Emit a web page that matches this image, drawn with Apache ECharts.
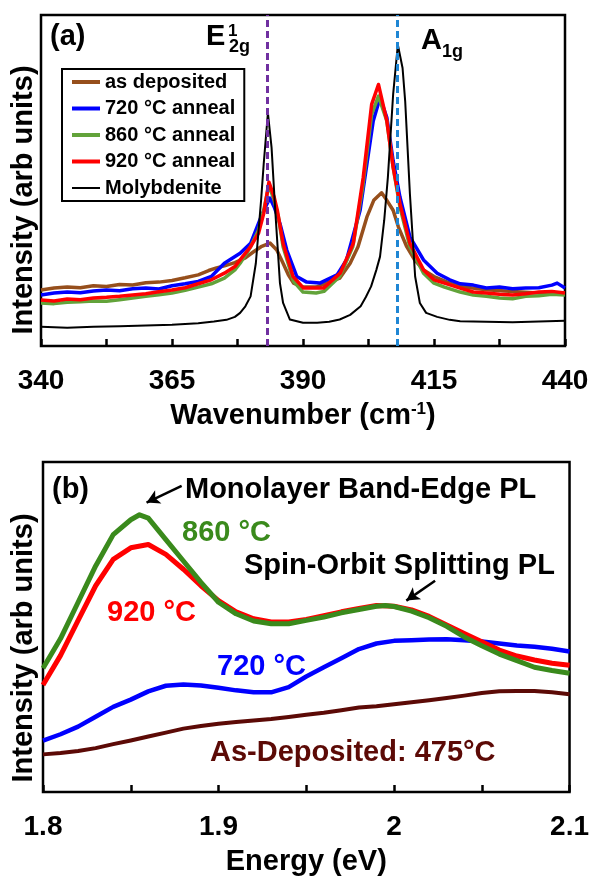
<!DOCTYPE html>
<html>
<head>
<meta charset="utf-8">
<script src="https://cdn.jsdelivr.net/npm/echarts@6/dist/echarts.min.js"></script>
<style>
  html, body { margin: 0; padding: 0; background: #fff; }
  #chart { width: 592px; height: 877px; }
</style>
</head>
<body>
<div id="chart"></div>
<script>
// ---------- (a) Raman spectra: [wavenumber (cm-1), intensity (arb.)] ----------
const ramanAsDeposited = [
  [340,16.9],[342.5,17.5],[345,17.8],[347.5,17.6],[350,18.2],[352.5,18.0],[355,18.6],[357.5,18.4],
  [360,19.1],[362.5,19.3],[365,19.8],[367.5,20.6],[370,21.5],[372,22.8],[373.5,23.6],[375,24.2],
  [377,25.2],[379,26.6],[380.5,28.4],[382,30],[383.7,31.1],[385,29],[386.2,25],[387.2,21.5],
  [388.2,19],[390,17.8],[392.5,17.8],[394.5,19],[397,20.5],[399,25],[400.5,30],[402.2,39],
  [403.5,44],[405,46.3],[406,44],[407.2,41],[408.2,36],[409.8,30],[411.3,26],[413,23],[415,21],
  [418,19],[420,18],[425,17],[430,16.5],[435,16],[440,16]
];
const raman720 = [
  [340,15.4],[342.5,16.0],[345,16.3],[347.5,16.1],[350,16.6],[352.5,16.9],[355,16.7],[357.5,17.3],
  [360,17.5],[362.5,17.2],[365,18.2],[367.5,18.8],[370,19.5],[372.5,21.0],[375,25],[376.5,26.5],
  [378,28],[380,31],[381,35],[382,39],[383,42.5],[383.7,44.7],[384.5,42],[385.6,37],[386.9,29],
  [388.8,21],[390.7,19.3],[393.2,19],[395.2,20.5],[396.5,21.5],[398.3,26],[400.9,41],[403.4,68],
  [404.7,75],[406,69],[407.2,56],[408.5,45],[410.4,33],[413,26],[415.6,22],[418,20],[420,18.8],
  [422.5,18.4],[425,17.5],[427.5,17.8],[430,17.3],[432.5,17.5],[435,17.6],[437.5,18.4],[438.5,19.0],[440,17.5]
];
const raman860 = [
  [340,13.0],[342.5,12.8],[345,13.2],[347.5,13.4],[350,13.6],[352.5,13.5],[355,14.0],[357.5,14.5],
  [360,15.0],[362.5,15.5],[365,16.0],[367.5,16.8],[370,17.8],[372.5,18.8],[375,20.5],[377,23],
  [378,25],[380,30],[381.5,35],[382.5,41],[383.5,48.6],[384.5,44],[385.3,39],[386.2,30],[388.2,19.5],
  [390,16.3],[392.5,16.0],[394,16.5],[397,21],[399.5,30],[401.4,48],[403.1,70],[404.4,75.5],
  [406,68],[407.2,54],[408.5,42],[410.4,30],[413,22],[415,19],[417,17.8],[420,16.3],[422.5,15.4],
  [425,15],[427.5,14.5],[430,14.3],[432.5,15],[435,15.2],[437.5,15.6],[440,15.4]
];
const raman920 = [
  [340,13.9],[342.5,13.6],[345,14.2],[347.5,14.0],[350,14.5],[352.5,14.7],[355,15.0],[357.5,15.4],
  [360,15.8],[362.5,16.4],[365,16.9],[367.5,17.6],[370,18.8],[372.5,20],[375,22],[377,24],[378,26],
  [380,30],[381.5,34],[382.5,40],[383.5,49.5],[384.5,45],[385.1,41],[386.2,31],[388.1,21],
  [390.1,17.5],[393.9,17.5],[397.1,22],[399.6,31],[401.5,51],[403.1,73],[404.4,79],[406,68],
  [407.2,54],[408.5,43],[410.4,31],[413,23],[415,20],[417,19],[420,17.5],[422.5,16.3],[425,16],
  [427.5,15.6],[430,15.4],[432.5,15.8],[435,16.3],[437.5,16.5],[440,16]
];
const ramanMolybdenite = [
  [340,5.8],[345,5.5],[350,5.8],[355,6.0],[360,6.2],[365,6.4],[370,6.9],[373,7.4],[375.4,7.9],
  [377,8.8],[378,10],[379,12],[380,15],[381,25],[382,44],[382.5,55],[383.3,70.4],[384,60],
  [384.7,41],[385.6,19],[386.2,13],[387.5,8],[390,7],[392.7,7],[395,7.3],[397,8],[399,9.4],
  [401,12],[402,14.8],[403,18],[404,23],[404.7,27],[405.5,38],[406.2,51],[407.2,76],[408.1,91],
  [409,84],[409.5,74],[410.4,46],[411.4,21],[412.3,13],[413.5,10],[415.6,8.8],[418,7.9],[420,7.5],
  [425,7.3],[430,7.2],[435,7.4],[440,7.6]
];
const ramanModes = [383.1, 408.0];          // E1_2g and A_1g positions
const ramanNames = ['as deposited', '720 °C anneal', '860 °C anneal', '920 °C anneal', 'Molybdenite'];
const wnLabels = [340, 365, 390, 415, 440];
const wnTicks = [340, 352.5, 365, 377.5, 390, 402.5, 415, 427.5, 440];

// ---------- (b) photoluminescence: [energy (eV), intensity (arb.)] ----------
const plAsDeposited = [
  [1.80,11.4],[1.81,11.8],[1.82,12.4],[1.83,13.3],[1.84,14.5],[1.85,15.6],[1.86,16.8],[1.87,18],
  [1.88,19.2],[1.89,20],[1.90,20.7],[1.91,21.2],[1.92,21.7],[1.93,22.1],[1.94,22.7],[1.95,23.4],
  [1.96,24],[1.97,24.8],[1.98,25.6],[1.99,26],[2.00,26.6],[2.01,27.2],[2.02,27.8],[2.03,28.5],
  [2.04,29.2],[2.05,30],[2.06,30.5],[2.07,30.6],[2.08,30.6],[2.09,30.2],[2.10,29.6]
];
const pl720 = [
  [1.80,15.6],[1.81,17.5],[1.82,19.8],[1.83,22.8],[1.84,25.8],[1.85,28],[1.86,30.5],[1.87,32.2],
  [1.88,32.6],[1.89,32.3],[1.90,31.6],[1.91,30.8],[1.92,30.2],[1.93,30.2],[1.94,31.8],[1.95,35],
  [1.96,37.8],[1.97,40.5],[1.98,43.3],[1.99,45],[2.00,45.8],[2.01,46],[2.02,46.2],[2.03,46.3],
  [2.04,46],[2.05,45.6],[2.06,45],[2.07,44.4],[2.08,44],[2.09,43.4],[2.10,42.6]
];
const pl920 = [
  [1.80,32.4],[1.81,41.4],[1.82,52],[1.83,62.5],[1.84,70.5],[1.85,74],[1.86,75],[1.87,72],
  [1.88,67.5],[1.89,62.5],[1.90,58],[1.91,54.6],[1.92,52.5],[1.93,51.5],[1.94,51.5],[1.95,52.3],
  [1.96,53.4],[1.97,54.6],[1.98,55.6],[1.99,56.5],[2.00,56.3],[2.01,55.2],[2.02,53.2],[2.03,50.6],
  [2.04,48],[2.05,45.5],[2.06,43],[2.07,41.2],[2.08,40],[2.09,39],[2.10,38.4]
];
const pl860 = [
  [1.80,37.5],[1.81,46.5],[1.82,57.5],[1.83,68.5],[1.84,78],[1.85,82.5],[1.855,84],[1.86,83],
  [1.87,76.5],[1.88,70],[1.89,63.5],[1.90,57.5],[1.91,54],[1.92,51.8],[1.93,51],[1.94,51],
  [1.95,52],[1.96,53],[1.97,54.3],[1.98,55.3],[1.99,56.3],[1.995,56.5],[2.00,56.2],[2.01,54.8],
  [2.02,52.8],[2.03,50.2],[2.04,47],[2.05,44.3],[2.06,41.8],[2.07,39.8],[2.08,37.8],[2.09,36.8],[2.10,36]
];
const eLabels = [1.8, 1.9, 2.0, 2.1];
const eTicks = [1.8, 1.85, 1.9, 1.95, 2.0, 2.05, 2.1];
const arrowBandEdge = [[1.879, 92.8], [1.859, 87.7]];
const arrowSpinOrbit = [[2.0234, 64], [2.007, 58]];

// ---------- styling ----------
const FONT = '"Liberation Sans", Arial, Helvetica, sans-serif';
const colA = { asDep: '#964f1c', c720: '#0000ff', c860: '#62a33a', c920: '#ff0000', moly: '#000000' };
const colB = { asDep: '#5c0a06', c720: '#0000ff', c860: '#3a8a1c', c920: '#ff0000' };

function txt(text, x, y, size, color, rotation) {
  return {
    type: 'text', x: x, y: y, rotation: rotation || 0, z: 100, silent: true,
    style: {
      text: text, fill: color, font: 'bold ' + size + 'px ' + FONT,
      align: rotation ? 'center' : 'left', verticalAlign: 'middle',
      textAlign: rotation ? 'center' : 'left', textVerticalAlign: 'middle'
    }
  };
}

function xAxisCfg(grid, min, max, labels, ticks, name, fmt) {
  return {
    gridIndex: grid, type: 'value', min: min, max: max,
    axisLine: { show: false },
    splitLine: { show: false },
    axisTick: { show: true, inside: true, length: 7, customValues: ticks,
                lineStyle: { color: '#000', width: 2.5 } },
    axisLabel: { customValues: labels, margin: 21, color: '#000', fontSize: 28,
                 fontWeight: 'bold', fontFamily: FONT, formatter: fmt },
    name: name, nameLocation: 'middle', nameGap: 55,
    nameTextStyle: {
      color: '#000', fontSize: 29, fontWeight: 'bold', fontFamily: FONT,
      rich: { sup: { fontSize: 17, fontWeight: 'bold', fontFamily: FONT, color: '#000', verticalAlign: 'top', lineHeight: 29 },
              n: { fontSize: 29, fontWeight: 'bold', fontFamily: FONT, color: '#000', lineHeight: 29 } }
    }
  };
}
function yAxisCfg(grid) {
  return {
    gridIndex: grid, type: 'value', min: 0, max: 100,
    axisLine: { show: false }, axisTick: { show: false },
    axisLabel: { show: false }, splitLine: { show: false }
  };
}
function lineSeries(name, data, color, width, xi, extra) {
  return Object.assign({
    name: name, type: 'line', data: data, xAxisIndex: xi, yAxisIndex: xi,
    color: color, symbol: 'none', showSymbol: false, smooth: false, silent: true,
    lineStyle: { color: color, width: width, join: 'round' }
  }, extra || {});
}

const chart = echarts.init(document.getElementById('chart'), null, { renderer: 'canvas' });

chart.setOption({
  animation: false,
  backgroundColor: '#fff',
  grid: [
    { left: 41, top: 15, width: 524, height: 331, show: true, borderColor: '#000', borderWidth: 2.5, backgroundColor: 'transparent' },
    { left: 43, top: 462, width: 529, height: 333, show: true, borderColor: '#000', borderWidth: 2.5, backgroundColor: 'transparent' }
  ],
  xAxis: [
    xAxisCfg(0, 340, 440, wnLabels, wnTicks, '{n|Wavenumber (cm}{sup|-1}{n|)}', v => String(v)),
    xAxisCfg(1, 1.8, 2.1, eLabels, eTicks, 'Energy (eV)', v => String(+(+v).toFixed(2)))
  ],
  yAxis: [yAxisCfg(0), yAxisCfg(1)],
  legend: {
    show: true, orient: 'vertical', left: 62, top: 69,
    padding: [3, 9, 3, 10], itemGap: 6.5, itemWidth: 28, itemHeight: 4,
    borderColor: '#000', borderWidth: 2, backgroundColor: '#fff',
    textStyle: { color: '#000', fontSize: 20, fontWeight: 'bold', fontFamily: FONT },
    selectedMode: false,
    data: [
      { name: ramanNames[0], icon: 'path://M0 0H28V4H0Z' },
      { name: ramanNames[1], icon: 'path://M0 0H28V4H0Z' },
      { name: ramanNames[2], icon: 'path://M0 0H28V4H0Z' },
      { name: ramanNames[3], icon: 'path://M0 0H28V4H0Z' },
      { name: ramanNames[4], icon: 'path://M0 0H28V2H0Z' }
    ]
  },
  series: [
    lineSeries(ramanNames[0], ramanAsDeposited, colA.asDep, 3.5, 0),
    lineSeries(ramanNames[1], raman720, colA.c720, 3.5, 0),
    lineSeries(ramanNames[2], raman860, colA.c860, 3.5, 0),
    lineSeries(ramanNames[3], raman920, colA.c920, 3.5, 0),
    lineSeries(ramanNames[4], ramanMolybdenite, colA.moly, 2, 0, {
      markLine: {
        silent: true, symbol: ['none', 'none'], z: 10, label: { show: false },
        data: [
          { xAxis: ramanModes[0], lineStyle: { color: '#7030a0', width: 3, type: [7, 4] } },
          { xAxis: ramanModes[1], lineStyle: { color: '#1f86d4', width: 3, type: [7, 4] } }
        ]
      }
    }),
    lineSeries('As-Deposited: 475°C', plAsDeposited, colB.asDep, 4, 1),
    lineSeries('720 °C', pl720, colB.c720, 4.5, 1),
    lineSeries('920 °C', pl920, colB.c920, 5, 1),
    lineSeries('860 °C', pl860, colB.c860, 5, 1, {
      markLine: {
        silent: true, symbol: ['none', 'arrow'], symbolSize: [11, 13], z: 10,
        label: { show: false },
        lineStyle: { color: '#000', width: 2.5, type: 'solid' },
        data: [
          [{ coord: arrowBandEdge[0] }, { coord: arrowBandEdge[1] }],
          [{ coord: arrowSpinOrbit[0] }, { coord: arrowSpinOrbit[1] }]
        ]
      }
    })
  ],
  graphic: [
    // panel (a) annotations
    txt('(a)', 50, 37, 29, '#000'),
    txt('E', 206, 37, 29, '#000'),
    txt('1', 228, 31, 17, '#000'),
    txt('2g', 229, 47, 18, '#000'),
    txt('A', 421, 41, 29, '#000'),
    txt('1g', 442, 52, 18, '#000'),
    txt('Intensity (arb units)', 24, 200, 29, '#000', Math.PI / 2),
    // panel (b) annotations
    txt('(b)', 52, 490, 29, '#000'),
    txt('Monolayer Band-Edge PL', 185, 490, 29, '#000'),
    txt('860 °C', 182, 533, 29, colB.c860),
    txt('Spin-Orbit Splitting PL', 244, 566, 29, '#000'),
    txt('920 °C', 107, 613, 29, colB.c920),
    txt('720 °C', 217, 667, 29, colB.c720),
    txt('As-Deposited: 475°C', 210, 753, 29, colB.asDep),
    txt('Intensity (arb units)', 24, 648, 29, '#000', Math.PI / 2)
  ]
});
</script>
</body>
</html>
